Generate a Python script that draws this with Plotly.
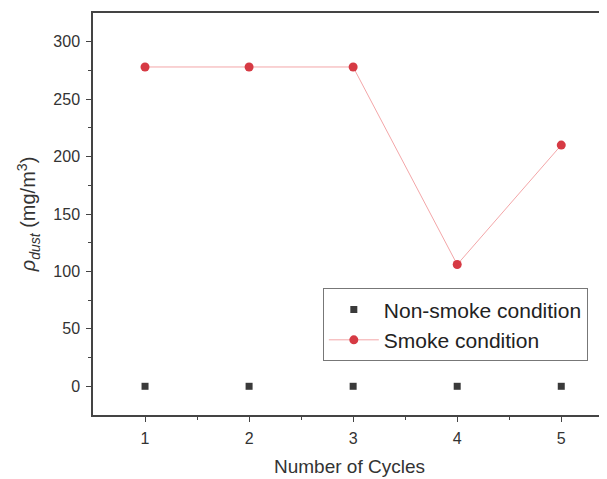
import plotly.graph_objects as go

cycles = [1, 2, 3, 4, 5]
non_smoke = [0, 0, 0, 0, 0]
smoke = [278, 278, 278, 106, 210]

fig = go.Figure()
fig.add_trace(go.Scatter(
    x=cycles, y=non_smoke, mode="markers", name="Non-smoke condition",
    marker=dict(symbol="square", size=7, color="#3a3a3a"),
))
fig.add_trace(go.Scatter(
    x=cycles, y=smoke, mode="lines+markers", name="Smoke condition",
    line=dict(color="#f3a6a8", width=1),
    marker=dict(symbol="circle", size=9, color="#d63a44"),
))

axis_common = dict(
    showgrid=False, zeroline=False, showline=True, linecolor="#444", linewidth=1.5,
    ticks="outside", ticklen=5, tickwidth=1.2, tickcolor="#444", automargin=False,
    ticklabelstandoff=3,
    tickfont=dict(family="Liberation Sans, Arial, sans-serif", size=16, color="#333"),
)

# The page body adds an 8px margin; size the figure so it fits the 607x479 window.
fig.update_layout(
    width=599, height=471,
    margin=dict(l=85, r=1, t=5, b=64),
    paper_bgcolor="white", plot_bgcolor="white",
    font=dict(family="Liberation Sans, Arial, sans-serif", color="#333"),
    xaxis=dict(
        range=[0.5, 5.43], tickvals=[1, 2, 3, 4, 5], mirror=True,
        minor=dict(tickvals=[1.5, 2.5, 3.5, 4.5], ticks="outside", ticklen=3, tickcolor="#444"),
        title=dict(text="Number of Cycles", font=dict(size=19, color="#333"), standoff=14),
        **axis_common,
    ),
    yaxis=dict(
        range=[-25, 325], tickvals=[0, 50, 100, 150, 200, 250, 300],
        minor=dict(tickvals=[25, 75, 125, 175, 225, 275], ticks="outside", ticklen=3, tickcolor="#444"),
        title=dict(text="<i>ρ</i><sub><i>dust</i></sub> (mg/m<sup>3</sup>)", font=dict(size=20, color="#333"), standoff=12),
        **axis_common,
    ),
    legend=dict(
        x=0.448, y=0.315, xanchor="left", yanchor="top",
        bgcolor="white", bordercolor="#777", borderwidth=1,
        font=dict(size=21, color="#222"),
        tracegroupgap=0, itemwidth=50,
    ),
    showlegend=True,
)

fig.write_html("out.html")
